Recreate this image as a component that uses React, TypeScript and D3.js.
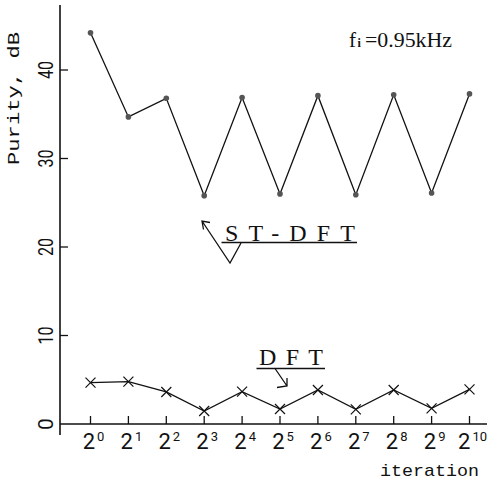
import * as d3 from 'd3';

// iteration exponents: x axis reads 2^0 .. 2^10
const exponents = ['0', '1', '2', '3', '4', '5', '6', '7', '8', '9', '10'];
const stDft = [44.2, 34.7, 36.8, 25.8, 36.9, 26.0, 37.1, 25.9, 37.2, 26.1, 37.3];
const dft = [4.67, 4.78, 3.62, 1.47, 3.65, 1.69, 3.84, 1.66, 3.84, 1.77, 3.92];
const yTicks = [0, 10, 20, 30, 40];

const W = 492;
const H = 483;
const mono = '"Liberation Mono", "DejaVu Sans Mono", monospace';
const sans = 'Roboto, "Liberation Sans", sans-serif';
const serif = '"Liberation Serif", "DejaVu Serif", serif';

export default function App() {
  const x = d3.scaleLinear().domain([0, 10]).range([90.5, 469.5]);
  const y = d3.scaleLinear().domain([0, 40]).range([424, 70]);
  const axisX = 60;
  const y0 = y(0);

  const line = d3
    .line<number>()
    .x((_, i) => x(i))
    .y((d) => y(d));

  return (
    <div style={{ position: 'absolute', left: 0, top: 0 }}>
      <svg width={W} height={H} style={{ display: 'block', background: '#fff' }}>
        {/* axes */}
        <line x1={axisX} y1={5} x2={axisX} y2={435} stroke="#111" strokeWidth={1.6} />
        <line x1={axisX} y1={y0} x2={487} y2={y0} stroke="#111" strokeWidth={1.6} />

        {yTicks.map((t) => (
          <g key={t}>
            {t > 0 && <line x1={axisX} x2={axisX + 8} y1={y(t)} y2={y(t)} stroke="#111" strokeWidth={1.3} />}
            <text
              transform={`translate(53,${y(t)}) rotate(-90)`}
              textAnchor="middle"
              fontFamily={sans}
              fontSize={21}
              fill="#111"
              textLength={t > 0 ? 18 : undefined}
              lengthAdjust="spacingAndGlyphs"
            >
              {t}
            </text>
          </g>
        ))}

        {exponents.map((e, i) => (
          <g key={e}>
            <line x1={x(i)} x2={x(i)} y1={y0} y2={y0 - 8} stroke="#111" strokeWidth={1.3} />
            <text x={x(i) + 3} y={448.5} textAnchor="middle" fontFamily={sans} fill="#111">
              <tspan fontSize={22}>2</tspan>
              <tspan fontSize={13} dx={2} dy={-7.5}>
                {e}
              </tspan>
            </text>
          </g>
        ))}

        <text
          transform="translate(19,98.5) rotate(-90)"
          textAnchor="middle"
          fontFamily={mono}
          fontSize={17}
          fill="#111"
          textLength={133}
          lengthAdjust="spacingAndGlyphs"
        >
          Purity, dB
        </text>
        <text
          x={380}
          y={476}
          fontFamily={mono}
          fontSize={17}
          fill="#111"
          textLength={99}
          lengthAdjust="spacingAndGlyphs"
        >
          iteration
        </text>

        {/* series */}
        <path d={line(stDft) ?? ''} fill="none" stroke="#111" strokeWidth={1.3} />
        {stDft.map((d, i) => (
          <circle key={i} cx={x(i)} cy={y(d)} r={2.8} fill="#555" />
        ))}

        <path d={line(dft) ?? ''} fill="none" stroke="#111" strokeWidth={1.3} />
        {dft.map((d, i) => (
          <path
            key={i}
            d={`M${x(i) - 5},${y(d) - 5}L${x(i) + 5},${y(d) + 5}M${x(i) + 5},${y(d) - 5}L${x(i) - 5},${y(d) + 5}`}
            stroke="#111"
            strokeWidth={1.2}
            fill="none"
          />
        ))}

        {/* ST-DFT callout */}
        <text x={225} y={241} fontFamily={serif} fontSize={24} fill="#111" textLength={130} lengthAdjust="spacing">
          ST-DFT
        </text>
        <line x1={221.5} x2={357} y1={242.5} y2={242.5} stroke="#111" strokeWidth={1.3} />
        <path d="M241,243L230,263L202,221M210,222.5L202,221L203.5,229.5" fill="none" stroke="#111" strokeWidth={1.3} />

        {/* DFT callout */}
        <text x={259} y={364.5} fontFamily={serif} fontSize={24} fill="#111" textLength={64} lengthAdjust="spacing">
          DFT
        </text>
        <line x1={256.5} x2={325} y1={368.5} y2={368.5} stroke="#111" strokeWidth={1.3} />
        <path d="M275,368.5L287,386M277,387.5L287,386L287,378" fill="none" stroke="#111" strokeWidth={1.3} />

        {/* frequency label */}
        <text y={47} fontFamily={serif} fill="#111">
          <tspan x={349} fontSize={21}>f</tspan>
          <tspan x={357.5} fontSize={12} fontWeight="bold">i</tspan>
          <tspan x={365} fontSize={21} textLength={87} lengthAdjust="spacingAndGlyphs">=0.95kHz</tspan>
        </text>
      </svg>
    </div>
  );
}
